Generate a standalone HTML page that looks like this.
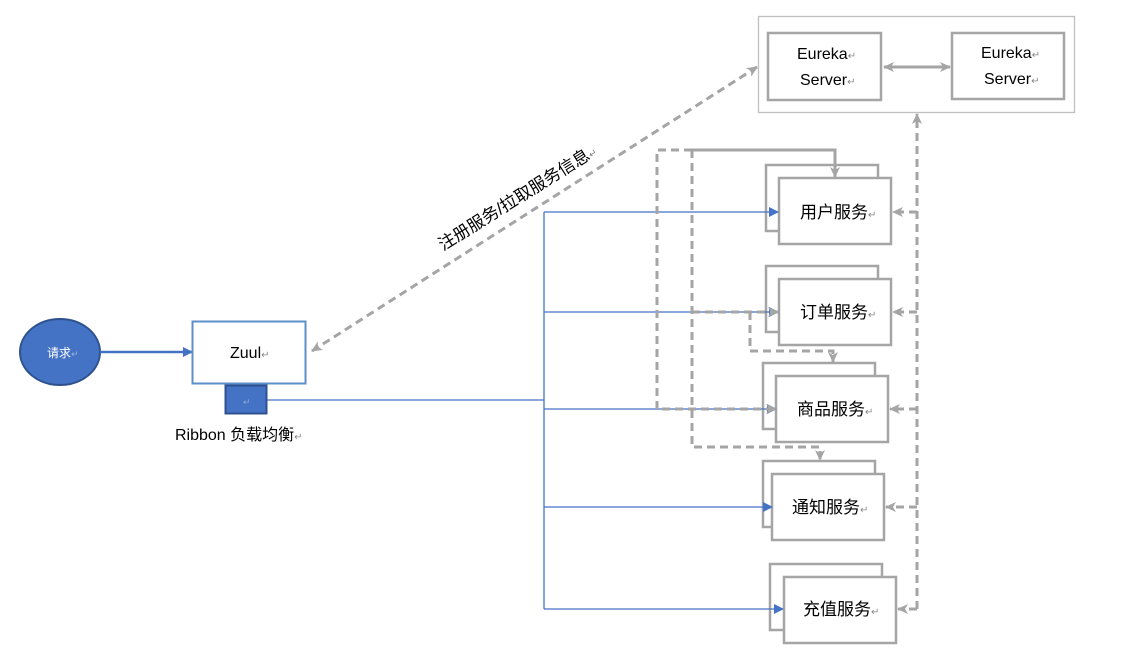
<!DOCTYPE html>
<html><head><meta charset="utf-8"><style>
html,body{margin:0;padding:0;background:#fff;}
svg{display:block;font-family:"Liberation Sans","Noto Sans CJK SC",sans-serif;}
</style></head><body>
<svg width="1126" height="672" viewBox="0 0 1126 672" xmlns="http://www.w3.org/2000/svg">
<defs>
<marker id="ab" markerWidth="10" markerHeight="10" refX="9" refY="5" orient="auto" markerUnits="userSpaceOnUse"><path d="M0,0 L10,5 L0,10 z" fill="#4472C4"/></marker>
<marker id="ag" markerWidth="12" markerHeight="12" refX="10" refY="6" orient="auto" markerUnits="userSpaceOnUse"><path d="M0,1 L11,6 L0,11 L3,6 z" fill="#A5A5A5"/></marker>
<marker id="ags" markerWidth="12" markerHeight="12" refX="2" refY="6" orient="auto" markerUnits="userSpaceOnUse"><path d="M12,1 L1,6 L12,11 L9,6 z" fill="#A5A5A5"/></marker>
</defs>
<g fill="none">
<ellipse cx="60" cy="352" rx="40" ry="33" fill="#4472C4" stroke="#2F528F" stroke-width="2"/>
<line x1="100" y1="352" x2="192" y2="352" stroke="#4472C4" stroke-width="2.5" marker-end="url(#ab)"/>
<rect x="192.5" y="321.5" width="113" height="62" fill="#fff" stroke="#5B8FC9" stroke-width="2"/>
<rect x="225.5" y="385.5" width="41" height="28" fill="#4472C4" stroke="#2F528F" stroke-width="2"/>
<!-- service boxes -->
<g stroke="#A5A5A5" stroke-width="2.5">
<rect x="766" y="165" width="112" height="66" fill="#fff"/><rect x="779" y="178" width="112" height="66" fill="#fff"/>
<rect x="766" y="266" width="112" height="66" fill="#fff"/><rect x="779" y="279" width="112" height="66" fill="#fff"/>
<rect x="763" y="363" width="112" height="66" fill="#fff"/><rect x="776" y="376" width="112" height="66" fill="#fff"/>
<rect x="763" y="461" width="112" height="66" fill="#fff"/><rect x="772" y="474" width="112" height="66" fill="#fff"/>
<rect x="770" y="564" width="112" height="66" fill="#fff"/><rect x="784" y="577" width="112" height="66" fill="#fff"/>
</g>
<!-- blue tree -->
<g stroke="#4472C4" stroke-width="1.3">
<polyline points="267,400 544,400"/>
<polyline points="544,212 544,609"/>
<line x1="544" y1="212" x2="778" y2="212" marker-end="url(#ab)"/>
<line x1="544" y1="312" x2="778" y2="312" marker-end="url(#ab)"/>
<line x1="544" y1="409" x2="776" y2="409" marker-end="url(#ab)"/>
<line x1="544" y1="507" x2="772" y2="507" marker-end="url(#ab)"/>
<line x1="544" y1="609" x2="783" y2="609" marker-end="url(#ab)"/>
</g>
<!-- eureka -->
<rect x="758.5" y="16.5" width="316" height="96" stroke="#BFBFBF" stroke-width="1.3"/>
<rect x="768" y="33" width="113" height="67" stroke="#A5A5A5" stroke-width="2.5"/>
<rect x="952" y="33" width="112" height="66" stroke="#A5A5A5" stroke-width="2.5"/>
<line x1="884" y1="67" x2="950" y2="67" stroke="#A5A5A5" stroke-width="3" marker-start="url(#ags)" marker-end="url(#ag)"/>
<!-- dashed gray -->
<g stroke="#A5A5A5" stroke-width="3" stroke-dasharray="8,5">
<line x1="917" y1="609" x2="917" y2="114" marker-end="url(#ag)"/>
<line x1="917" y1="212" x2="893" y2="212" marker-end="url(#ag)"/>
<line x1="917" y1="312" x2="893" y2="312" marker-end="url(#ag)"/>
<line x1="917" y1="409" x2="890" y2="409" marker-end="url(#ag)"/>
<line x1="917" y1="507" x2="886" y2="507" marker-end="url(#ag)"/>
<line x1="917" y1="609" x2="898" y2="609" marker-end="url(#ag)"/>
<line x1="312" y1="351" x2="757" y2="67" marker-start="url(#ags)" marker-end="url(#ag)"/>
<polyline points="692,150 657,150 657,409 776,409" marker-end="url(#ag)"/>
<polyline points="692,150 692,447 820,447 820,460" marker-end="url(#ag)"/>
<polyline points="692,312 778,312" marker-end="url(#ag)"/>
<polyline points="750,312 750,351 833,351 833,362" marker-end="url(#ag)"/>
</g>
<polyline points="692,150 835,150 835,177" stroke="#A5A5A5" stroke-width="3" marker-end="url(#ag)"/>
</g>
<g font-size="16" fill="#000">
<text x="47" y="357" font-size="12" fill="#fff">请求<tspan fill="#9DB3DE" font-size="9">↵</tspan></text>
<text x="230" y="358">Zuul<tspan font-size="10" fill="#888">↵</tspan></text>
<text x="243" y="405" font-size="9" fill="#8FA7D6">↵</text>
<text x="175" y="440">Ribbon  负载均衡<tspan font-size="10" fill="#888">↵</tspan></text>
<text x="797" y="59">Eureka<tspan font-size="10" fill="#888">↵</tspan></text>
<text x="800" y="85">Server<tspan font-size="10" fill="#888">↵</tspan></text>
<text x="981" y="58">Eureka<tspan font-size="10" fill="#888">↵</tspan></text>
<text x="984" y="84">Server<tspan font-size="10" fill="#888">↵</tspan></text>
<text x="800" y="218" font-size="17">用户服务<tspan font-size="10" fill="#888">↵</tspan></text>
<text x="800" y="318" font-size="17">订单服务<tspan font-size="10" fill="#888">↵</tspan></text>
<text x="797" y="415" font-size="17">商品服务<tspan font-size="10" fill="#888">↵</tspan></text>
<text x="792" y="513" font-size="17">通知服务<tspan font-size="10" fill="#888">↵</tspan></text>
<text x="803" y="615" font-size="17">充值服务<tspan font-size="10" fill="#888">↵</tspan></text>
<text x="0" y="0" font-size="17" transform="translate(443,251) rotate(-32)">注册服务/拉取服务信息<tspan font-size="10" fill="#888">↵</tspan></text>
</g>
</svg>
</body></html>
